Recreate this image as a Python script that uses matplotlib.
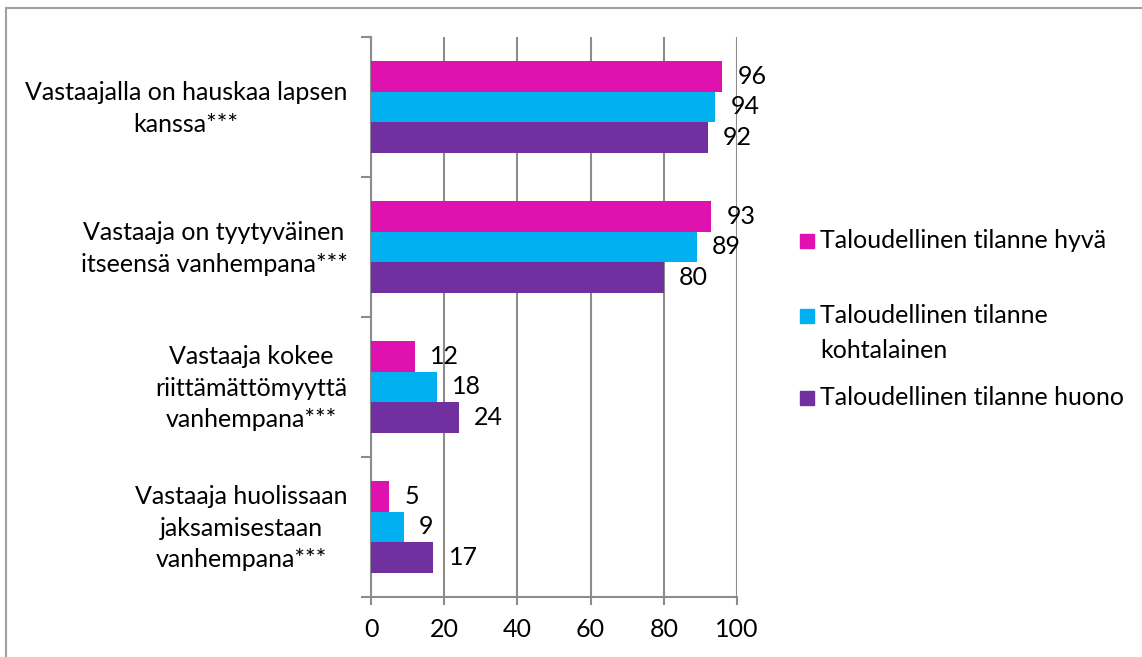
import numpy as np
import matplotlib.pyplot as plt
from matplotlib.patches import Rectangle
from matplotlib.transforms import ScaledTranslation

plt.rcParams['font.family'] = ['Lato', 'DejaVu Sans']

categories = ["Vastaajalla on hauskaa lapsen\nkanssa***",
              "Vastaaja on tyytyväinen\nitseensä vanhempana***",
              "Vastaaja kokee\nriittämättömyyttä\nvanhempana***",
              "Vastaaja huolissaan\njaksamisestaan\nvanhempana***"]
series = ["Taloudellinen tilanne hyvä",
          "Taloudellinen tilanne\nkohtalainen",
          "Taloudellinen tilanne huono"]
hyva = [96, 93, 12, 5]
kohtalainen = [94, 89, 18, 9]
huono = [92, 80, 24, 17]
colors = ["#E012AF", "#00B0F0", "#7030A0"]

FS = 18
grid_c = "#8C8C8C"

fig = plt.figure(figsize=(11.42, 6.57), dpi=100)
ax = fig.add_axes([371/1142, 1-597/657, (737-371)/1142, (597-37)/657])

y = np.arange(len(categories))
h = 0.218
for k, (vals, c) in enumerate(zip([hyva, kohtalainen, huono], colors)):
    pos = y + (k - 1) * h
    ax.barh(pos, vals, height=h, color=c, zorder=3)
    for p, v in zip(pos, vals):
        ax.annotate(f"{v}", (v, p), xytext=(11, 0), textcoords="offset points",
                    ha="left", va="center", fontsize=FS)

ax.set_xlim(0, 100)
ax.set_ylim(len(categories) - 0.5, -0.5)
ax.set_xticks(np.arange(0, 101, 20))
ax.xaxis.grid(True, color=grid_c, linewidth=1.5, zorder=0)
ax.tick_params(axis="x", length=6, width=1.5, color=grid_c, labelsize=FS, pad=9)

ax.set_yticks(y)
ax.set_yticklabels(categories, fontsize=FS)
ax.set_yticks(np.arange(-0.5, len(categories)), minor=True)
ax.tick_params(axis="y", which="major", length=0, pad=17)
ax.tick_params(axis="y", which="minor", length=7, width=1.5, color=grid_c)
shift = ScaledTranslation(0, 5/100, fig.dpi_scale_trans)
for lab in ax.get_yticklabels():
    lab.set_multialignment("center")
    lab.set_linespacing(1.45)
    lab.set_transform(lab.get_transform() + shift)

for s in ["top", "right"]:
    ax.spines[s].set_visible(False)
for s in ["left", "bottom"]:
    ax.spines[s].set_color(grid_c)
    ax.spines[s].set_linewidth(1.5)

# legend drawn by hand to keep Excel-like spacing
leg_y = [241, 316, 398]
for lab, c, ly in zip(series, colors, leg_y):
    fig.patches.append(Rectangle((800/1142, 1-(ly+7)/657), 14/1142, 14/657,
                                 transform=fig.transFigure, color=c))
    fig.text(820/1142, 1-(ly-12)/657, lab, fontsize=FS, va="top", ha="left",
             linespacing=1.65)

# chart frame (right and bottom edges fall outside the image)
fig.patches.append(Rectangle((6/1142, -20/657), 1160/1142, 1+12/657, transform=fig.transFigure,
                             fill=False, edgecolor="#A0A0A0", linewidth=1.5))

fig.savefig("out.png", dpi=100)
